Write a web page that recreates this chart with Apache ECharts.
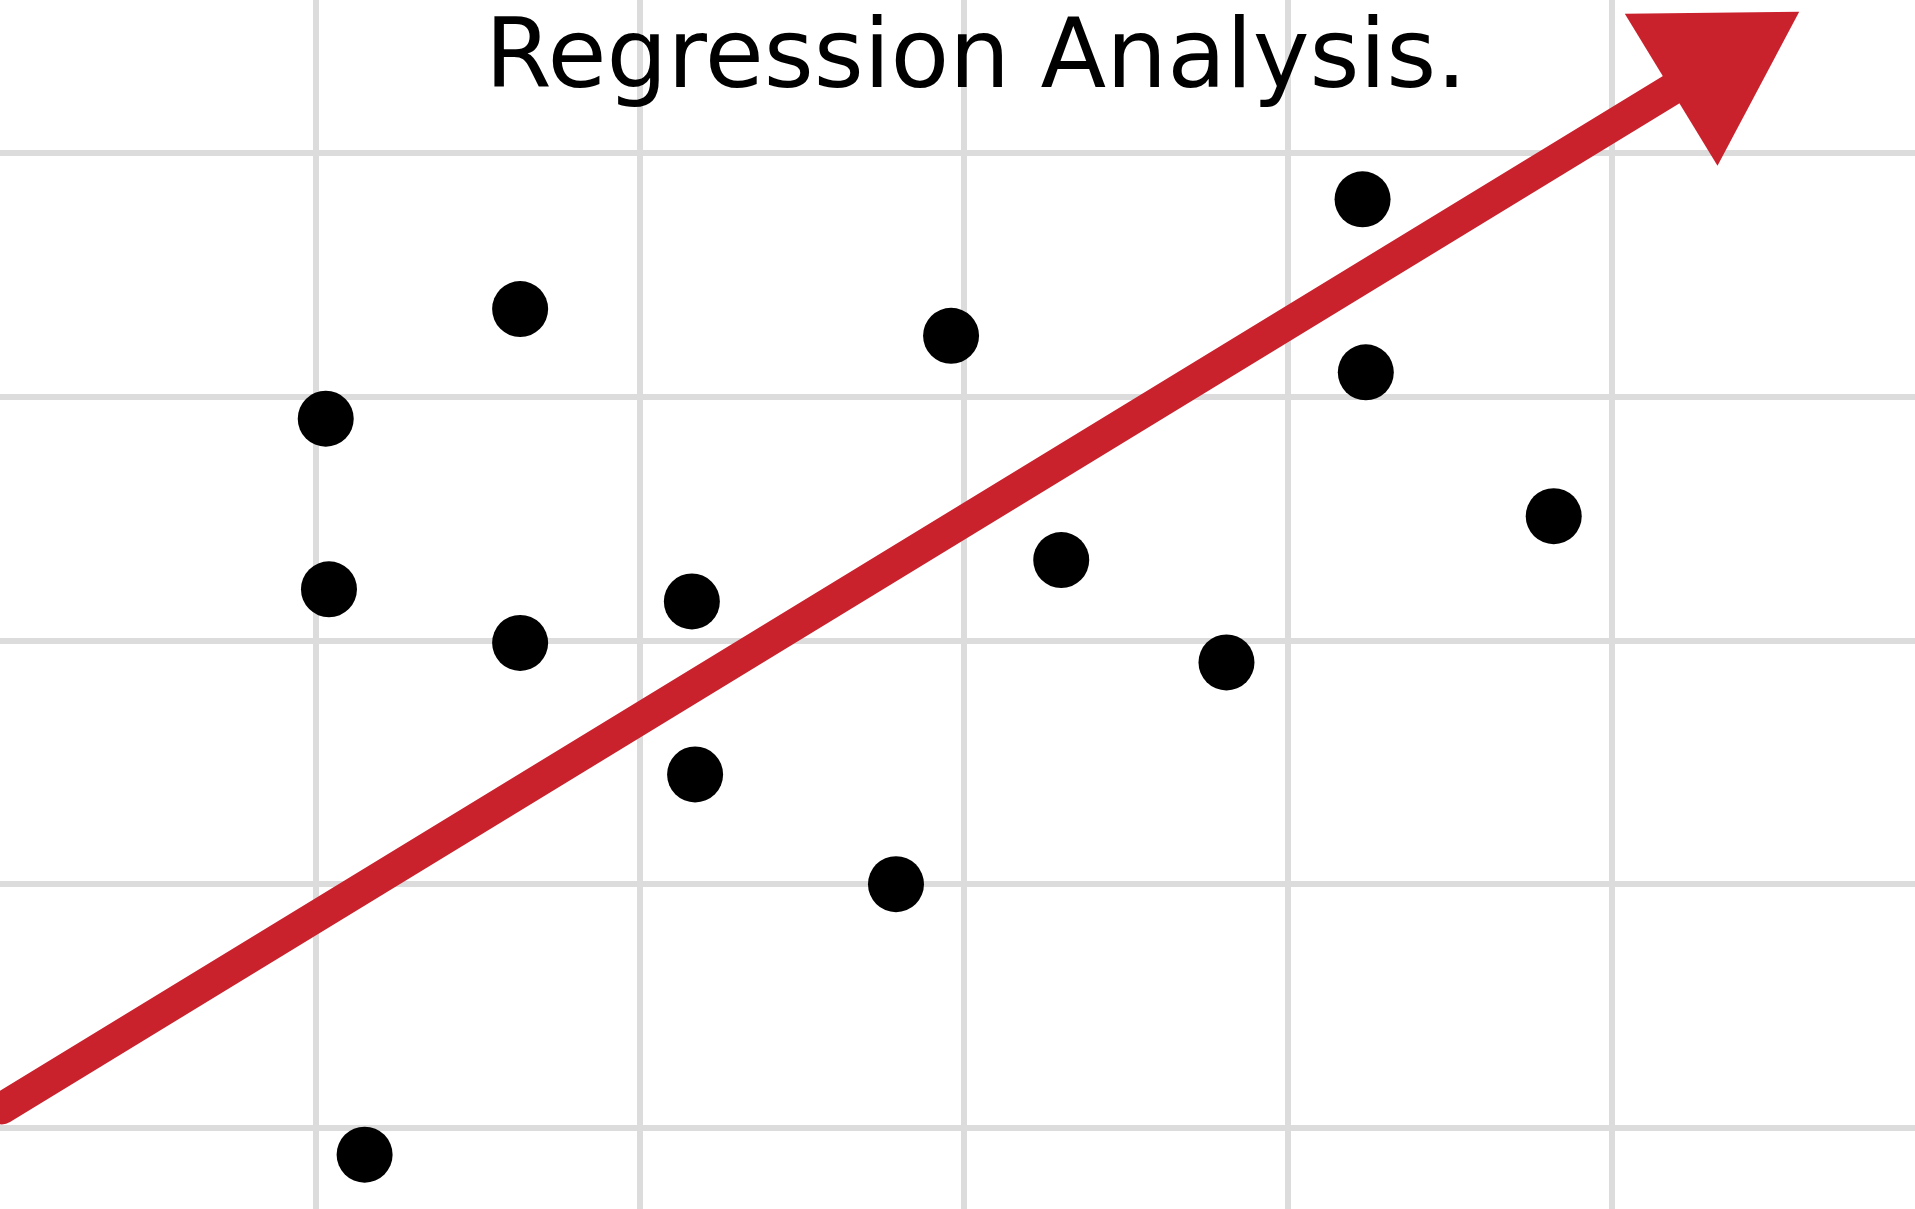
<!DOCTYPE html>
<html>
<head>
<meta charset="utf-8">
<title>Regression Analysis.</title>
<script src="https://cdn.jsdelivr.net/npm/echarts@6/dist/echarts.min.js"></script>
<style>
  html, body { margin: 0; padding: 0; background: #fff; }
  #chart { width: 1915px; height: 1209px; }
</style>
</head>
<body>
<div id="chart"></div>
<script>
// scatter points, in grid-cell units (one cell = 1)
const pointX = [1.03, 1.04, 1.15, 1.63, 1.63, 2.16, 2.17, 2.79, 2.96, 3.30, 3.81, 4.23, 4.24, 4.82]
const pointY = [3.91, 3.21, 0.89, 4.36, 2.99, 3.16, 2.45, 2.00, 4.25, 3.33, 2.91, 4.81, 4.10, 3.51]

// grid lines
const gridX = [1, 2, 3, 4, 5]
const gridY = [1, 2, 3, 4, 5]

// trend arrow, start and end
const trendStart = [0.03, 1.08]
const trendEnd = [5.38, 5.42]

const titleText = 'Regression Analysis.'

const chart = echarts.init(document.getElementById('chart'))

const red = '#c9222d'
const gridLine = { color: '#dcdcdc', width: 6, type: 'solid' }

const bareAxis = (min, max) => ({
  type: 'value',
  min: min,
  max: max,
  axisLine: { show: false },
  axisTick: { show: false },
  axisLabel: { show: false },
  splitLine: { show: false }
})

const option = {
  animation: false,
  backgroundColor: '#fff',
  title: {
    text: titleText,
    left: 480,
    top: 9,
    textStyle: {
      color: '#000',
      fontFamily: 'DejaVu Sans',
      fontWeight: 'normal',
      fontSize: 96
    }
  },
  grid: { left: 0, right: 0, top: 0, bottom: 0 },
  xAxis: bareAxis(0.0247, 5.935),
  yAxis: bareAxis(0.667, 5.628),
  series: [
    {
      // grid lines
      type: 'line',
      data: [],
      silent: true,
      z: 1,
      markLine: {
        silent: true,
        z: 1,
        symbol: ['none', 'none'],
        label: { show: false },
        lineStyle: gridLine,
        data: gridX.map((v) => ({ xAxis: v })).concat(gridY.map((v) => ({ yAxis: v })))
      }
    },
    {
      type: 'scatter',
      symbolSize: 56,
      itemStyle: { color: '#000', opacity: 1 },
      silent: true,
      z: 3,
      data: pointX.map((x, i) => [x, pointY[i]])
    },
    {
      // trend arrow
      type: 'line',
      data: [],
      silent: true,
      z: 4,
      markLine: {
        silent: true,
        z: 5,
        symbol: ['none', 'triangle'],
        symbolSize: [178, 150],
        label: { show: false },
        itemStyle: { color: red },
        lineStyle: { color: red, width: 32, type: 'solid', cap: 'round' },
        data: [[{ coord: trendStart }, { coord: trendEnd }]]
      }
    }
  ]
}

chart.setOption(option)
</script>
</body>
</html>
